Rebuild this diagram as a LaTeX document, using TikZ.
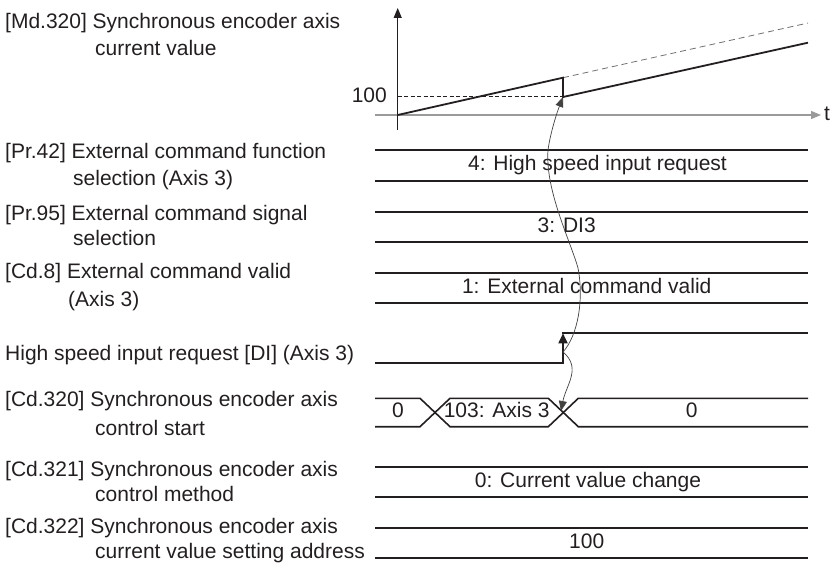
\documentclass[tikz,border=0pt]{standalone}
\usepackage{fontspec}
\setmainfont{Liberation Sans}
\usetikzlibrary{arrows.meta}
\definecolor{ink}{HTML}{231F20}
\definecolor{axisgray}{HTML}{9A9A9A}
\definecolor{dashgray}{HTML}{707070}
\tikzset{
  lbl/.style={anchor=west, inner sep=0pt, text height=15pt, text depth=4.2pt, text=ink, font=\fontsize{21}{25}\selectfont},
  val/.style={anchor=center, inner sep=0pt, text height=15pt, text depth=4.2pt, text=ink, font=\fontsize{21}{25}\selectfont},
  sig/.style={draw=ink, line width=1.8pt, line join=miter},
  tri/.style={-{Triangle[length=10pt,width=8pt]}},
  link/.style={draw=ink!85, line width=0.7pt, -{Triangle[length=10pt,width=8pt]}}
}
\begin{document}
\begin{tikzpicture}[x=1pt,y=-1pt]
\useasboundingbox (0,0) rectangle (832,567);

% ---- left labels ----
\node[lbl] (md1) at (5,23) {[Md.320] Synchronous encoder axis};
\node[lbl] (md2) at (95,50) {current value};
\node[lbl] (pr42a) at (5,153) {[Pr.42] External command function};
\node[lbl] (pr42b) at (73,180) {selection (Axis 3)};
\node[lbl] (pr95a) at (5,215) {[Pr.95] External command signal};
\node[lbl] (pr95b) at (73,240) {selection};
\node[lbl] (cd8a) at (5,273) {[Cd.8] External command valid};
\node[lbl] (cd8b) at (68,301.5) {(Axis 3)};
\node[lbl] (hsi) at (5,355) {High speed input request [DI] (Axis 3)};
\node[lbl] (c320a) at (5,401.5) {[Cd.320] Synchronous encoder axis};
\node[lbl] (c320b) at (95,430) {control start};
\node[lbl] (c321a) at (5,471.5) {[Cd.321] Synchronous encoder axis};
\node[lbl] (c321b) at (95,496.5) {control method};
\node[lbl] (c322a) at (5,528.5) {[Cd.322] Synchronous encoder axis};
\node[lbl] (c322b) at (95,553.5) {current value setting address};

% ---- graph ----
\coordinate (org) at (397.7,115);
\coordinate (ytop) at (397.7,8);
\coordinate (xend) at (821,115);
\draw[axisgray, line width=1.2pt, tri] (375,115) -- (xend);
\draw[ink, line width=1.1pt, tri] (397.7,130) -- (ytop);
\node[val, anchor=west] (tlab) at (824,115) {t};
\node[val, anchor=east] (hundred) at (387,97.5) {100};
\coordinate (jtop) at (563,77.7);
\coordinate (gpt) at (563,97);
\coordinate (gend) at (808,42.7);
\coordinate (dend) at (808,23);
\draw[ink, line width=1pt, dash pattern=on 4pt off 2.5pt] (397.7,97) -- (gpt);
\draw[dashgray, line width=0.8pt, dash pattern=on 6pt off 4pt] (jtop) -- (dend);
\draw[ink, line width=1.8pt] (org) -- (jtop) -- (gpt) -- (gend);

% ---- rows ----
\draw[sig] (375,150) -- (808,150);
\draw[sig] (375,180.7) -- (808,180.7);
\node[val] (v42) at (597.5,165.3) {4: High speed input request};

\draw[sig] (375,211.7) -- (808,211.7);
\draw[sig] (375,241.7) -- (808,241.7);
\node[val] (v95) at (566.7,226.7) {3: DI3};

\draw[sig] (375,272.7) -- (808,272.7);
\draw[sig] (375,302.7) -- (808,302.7);
\node[val] (v8) at (586.7,287.7) {1: External command valid};

% high speed input request
\coordinate (edge) at (563,352);
\draw[sig, line join=miter, -{Triangle[length=10pt,width=9pt]}] (375,363.3) -- (563,363.3) -- (563,333.3);
\draw[sig] (562.1,333.3) -- (808,333.3);

% Cd.320
\draw[sig, line width=1.6pt] (375,398.3) -- (420,398.3) -- (450,426.7) -- (548.3,426.7) -- (578.3,398.3) -- (808,398.3);
\draw[sig, line width=1.6pt] (375,426.7) -- (420,426.7) -- (450,398.3) -- (548.3,398.3) -- (578.3,426.7) -- (808,426.7);
\node[val] (v320a) at (398,412.5) {0};
\node[val] (v320b) at (496.7,412.5) {103: Axis 3};
\node[val] (v320c) at (691.7,412.5) {0};
\coordinate (xcross) at (561,411);

% Cd.321
\draw[sig] (375,466.7) -- (808,466.7);
\draw[sig] (375,496.7) -- (808,496.7);
\node[val] (v321) at (588,481.7) {0: Current value change};

% Cd.322
\draw[sig] (375,527.7) -- (808,527.7);
\draw[sig] (375,557.7) -- (808,557.7);
\node[val] (v322) at (586.7,542.7) {100};

% ---- connectors ----
\draw[link] (edge) .. controls (578,335) and (584,300) .. (578,268)
  .. controls (570,240) and (545,190) .. (548,150)
  .. controls (550,135) and (556,115) .. (gpt);
\draw[link] (edge) .. controls (582,368) and (566,385) .. (xcross);
\end{tikzpicture}
\end{document}
